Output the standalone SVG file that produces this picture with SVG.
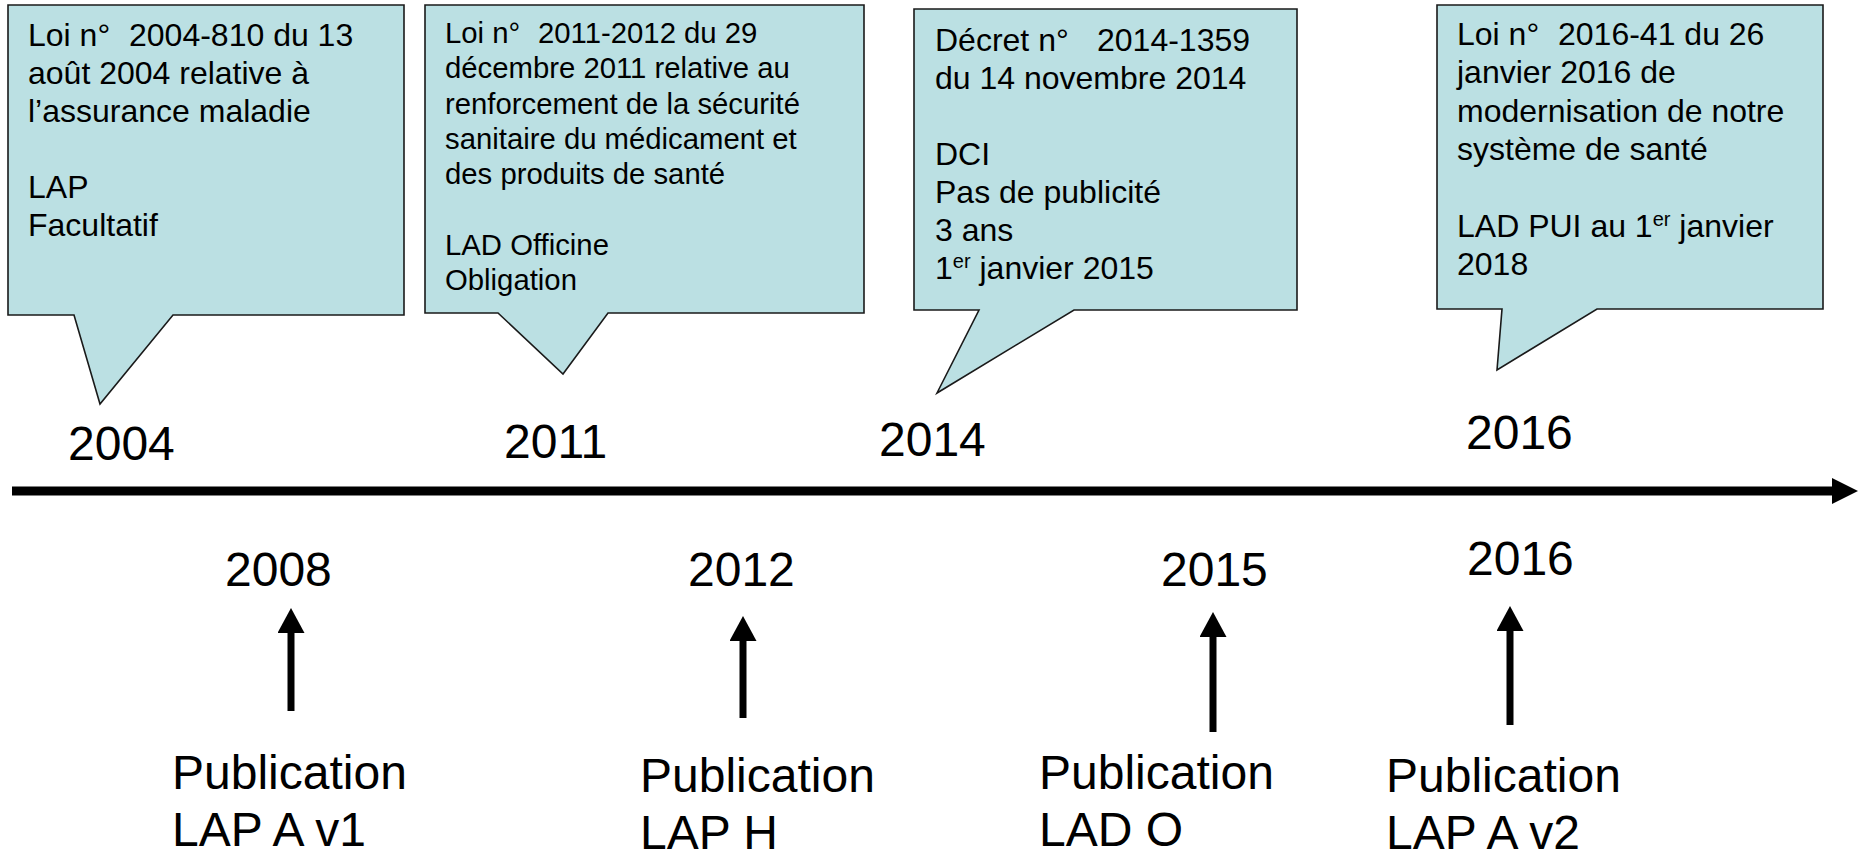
<svg xmlns="http://www.w3.org/2000/svg" width="1858" height="849" viewBox="0 0 1858 849">
<style>
.bubble{fill:#BBE0E3;stroke:#1a1a1a;stroke-width:1.6}
.t32{font-family:"Liberation Sans",Arial,sans-serif;font-size:32px;fill:#000}
.t29{font-family:"Liberation Sans",Arial,sans-serif;font-size:29.3px;fill:#000}
.t48{font-family:"Liberation Sans",Arial,sans-serif;font-size:48px;fill:#000}
.sup{font-size:20px}
.axis{stroke:#000;stroke-width:9;fill:none}
.arr{stroke:#000;stroke-width:7;fill:none}
</style>
<defs>
<marker id="headBig" markerUnits="userSpaceOnUse" markerWidth="26" markerHeight="26" refX="0" refY="13" orient="auto" viewBox="0 0 26 26">
<path d="M0,0 L26,13 L0,26 Z" fill="#000"/>
</marker>
<marker id="head" markerUnits="userSpaceOnUse" markerWidth="25" markerHeight="27" refX="0" refY="13.5" orient="auto" viewBox="0 0 25 27">
<path d="M0,0 L25,13.5 L0,27 Z" fill="#000"/>
</marker>
</defs>

<g id="callout-2004">
<path class="bubble" d="M8,5 H404 V315 H173 L100,404 L74,315 H8 Z"/>
<text class="t32"><tspan x="28" y="46">Loi n°</tspan><tspan x="129" y="46">2004-810 du 13</tspan><tspan x="28" y="84">août 2004 relative à</tspan><tspan x="28" y="122">l’assurance maladie</tspan><tspan x="28" y="198">LAP</tspan><tspan x="28" y="236">Facultatif</tspan></text>
</g>

<g id="callout-2011">
<path class="bubble" d="M425,5 H864 V313 H608 L563,374 L498,313 H425 Z"/>
<text class="t29"><tspan x="445" y="43">Loi n°</tspan><tspan x="538" y="43">2011-2012 du 29</tspan><tspan x="445" y="78.3">décembre 2011 relative au</tspan><tspan x="445" y="113.5">renforcement de la sécurité</tspan><tspan x="445" y="148.8">sanitaire du médicament et</tspan><tspan x="445" y="184">des produits de santé</tspan><tspan x="445" y="254.5">LAD Officine</tspan><tspan x="445" y="289.8">Obligation</tspan></text>
</g>

<g id="callout-2014">
<path class="bubble" d="M914,9 H1297 V310 H1074 L937,393 L979,310 H914 Z"/>
<text class="t32"><tspan x="935" y="51">Décret n°</tspan><tspan x="1097" y="51">2014-1359</tspan><tspan x="935" y="89">du 14 novembre 2014</tspan><tspan x="935" y="165">DCI</tspan><tspan x="935" y="203">Pas de publicité</tspan><tspan x="935" y="241">3 ans</tspan><tspan x="935" y="279">1</tspan><tspan class="sup" dy="-11">er</tspan><tspan dy="11"> janvier 2015</tspan></text>
</g>

<g id="callout-2016">
<path class="bubble" d="M1437,5 H1823 V309 H1597 L1497,370 L1502,309 H1437 Z"/>
<text class="t32"><tspan x="1457" y="45">Loi n°</tspan><tspan x="1558" y="45">2016-41 du 26</tspan><tspan x="1457" y="83">janvier 2016 de</tspan><tspan x="1457" y="122">modernisation de notre</tspan><tspan x="1457" y="160">système de santé</tspan><tspan x="1457" y="237">LAD PUI au 1</tspan><tspan class="sup" dy="-11">er</tspan><tspan dy="11"> janvier</tspan><tspan x="1457" y="275">2018</tspan></text>
</g>

<g id="years-top">
<text class="t48" x="68" y="460">2004</text>
<text class="t48" x="504" y="458">2011</text>
<text class="t48" x="879" y="456">2014</text>
<text class="t48" x="1466" y="449">2016</text>
</g>

<g id="years-bottom">
<text class="t48" x="225" y="586">2008</text>
<text class="t48" x="688" y="586">2012</text>
<text class="t48" x="1161" y="586">2015</text>
<text class="t48" x="1467" y="575">2016</text>
</g>

<g id="pub-2008"><text class="t48"><tspan x="172" y="789">Publication</tspan><tspan x="172" y="846">LAP A v1</tspan></text></g>
<g id="pub-2012"><text class="t48"><tspan x="640" y="792">Publication</tspan><tspan x="640" y="849">LAP H</tspan></text></g>
<g id="pub-2015"><text class="t48"><tspan x="1039" y="789">Publication</tspan><tspan x="1039" y="846">LAD O</tspan></text></g>
<g id="pub-2016"><text class="t48"><tspan x="1386" y="792">Publication</tspan><tspan x="1386" y="849">LAP A v2</tspan></text></g>

<g id="connectors">
<line class="axis" x1="12" y1="491" x2="1832" y2="491" marker-end="url(#headBig)"/>
<line class="arr" x1="291" y1="711" x2="291" y2="633" marker-end="url(#head)"/>
<line class="arr" x1="743" y1="718" x2="743" y2="641" marker-end="url(#head)"/>
<line class="arr" x1="1213" y1="732" x2="1213" y2="637" marker-end="url(#head)"/>
<line class="arr" x1="1510" y1="725" x2="1510" y2="631" marker-end="url(#head)"/>
</g>
</svg>
